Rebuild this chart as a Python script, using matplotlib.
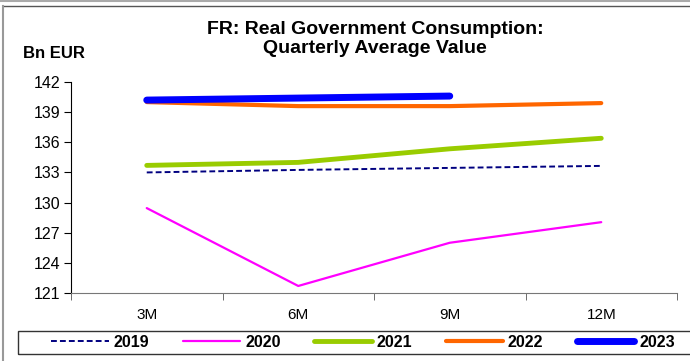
import matplotlib
matplotlib.use('Agg')
import matplotlib.pyplot as plt
from matplotlib.lines import Line2D
from matplotlib.patches import Rectangle

plt.rcParams['font.family'] = ['Liberation Sans', 'DejaVu Sans']

# Quarterly average value, bn EUR
periods = ['3M', '6M', '9M', '12M']
years = ['2019', '2020', '2021', '2022', '2023']
values_2019 = [133.0, 133.25, 133.45, 133.65]
values_2020 = [129.45, 121.7, 126.0, 128.05]
values_2021 = [133.7, 134.0, 135.35, 136.4]
values_2022 = [140.0, 139.6, 139.6, 139.9]
values_2023 = [140.2, 140.4, 140.6]

series = [values_2019, values_2020, values_2021, values_2022, values_2023]
colors = ['#000080', '#FF00FF', '#99CC00', '#FF6600', '#0000FF']
widths = [1.4, 1.6, 3.5, 3.0, 5.0]
styles = ['--', '-', '-', '-', '-']

fig = plt.figure(figsize=(6.9, 3.61), dpi=100)
ax = fig.add_axes([71 / 690, 1 - 293 / 361, (677 - 71) / 690, (293 - 82) / 361])

for vals, col, lw, ls, yr in zip(series, colors, widths, styles, years):
    x = list(range(len(vals)))
    if ls == '--':
        ax.plot(x, vals, color=col, lw=lw, ls=ls, dashes=(3, 1.6), label=yr)
    else:
        ax.plot(x, vals, color=col, lw=lw, ls=ls, solid_capstyle='round', label=yr)

ax.set_xlim(-0.5, 3.5)
ax.set_ylim(121, 142)
ax.set_yticks(range(121, 143, 3))
ax.set_xticks(range(len(periods)))
ax.set_xticklabels(periods)
ax.set_xticks([-0.5, 0.5, 1.5, 2.5, 3.5], minor=True)
ax.tick_params(axis='x', which='major', length=0, pad=11, labelsize=11)
ax.tick_params(axis='x', which='minor', length=5, direction='out', color='#555555')
ax.tick_params(axis='y', length=5, direction='out', labelsize=11.5, pad=3)
ax.spines['top'].set_visible(False)
ax.spines['right'].set_visible(False)
ax.spines['bottom'].set_color('#777777')

fig.text(375 / 690, 1 - 39 / 361, 'FR: Real Government Consumption:\nQuarterly Average Value',
         ha='center', va='center', fontsize=14, fontweight='bold', linespacing=1.08)
fig.text(23 / 690, 1 - 54 / 361, 'Bn EUR', ha='left', va='center', fontsize=12, fontweight='bold')

# chart area frame
fig.add_artist(Line2D([0, 1], [1 - 0.5 / 361, 1 - 0.5 / 361], color='#aaaaaa', lw=1.5))
fig.add_artist(Line2D([4 / 690, 1], [1 - 6 / 361, 1 - 6 / 361], color='#555555', lw=1))
fig.add_artist(Line2D([3.5 / 690, 3.5 / 690], [0, 1 - 6 / 361], color='#999999', lw=1.5))

# legend box running off the right edge
fig.add_artist(Rectangle((18 / 690, 1 - 354 / 361), 700 / 690, 23 / 361,
                         transform=fig.transFigure, fill=False, edgecolor='#333333', lw=1.0))

handles = [Line2D([0], [0], color=c, lw=w, ls=s, solid_capstyle='round',
                  dashes=(3, 1.6) if s == '--' else (None, None))
           for c, w, s in zip(colors, widths, styles)]
leg = fig.legend(handles, years, loc='center', ncol=5,
                 bbox_to_anchor=(363 / 690, 1 - 342.5 / 361),
                 frameon=False, borderaxespad=0, borderpad=0,
                 handlelength=3.6, handletextpad=0.3, columnspacing=2.1,
                 prop={'weight': 'bold', 'size': 11.5})

fig.savefig('out.png', dpi=100)
